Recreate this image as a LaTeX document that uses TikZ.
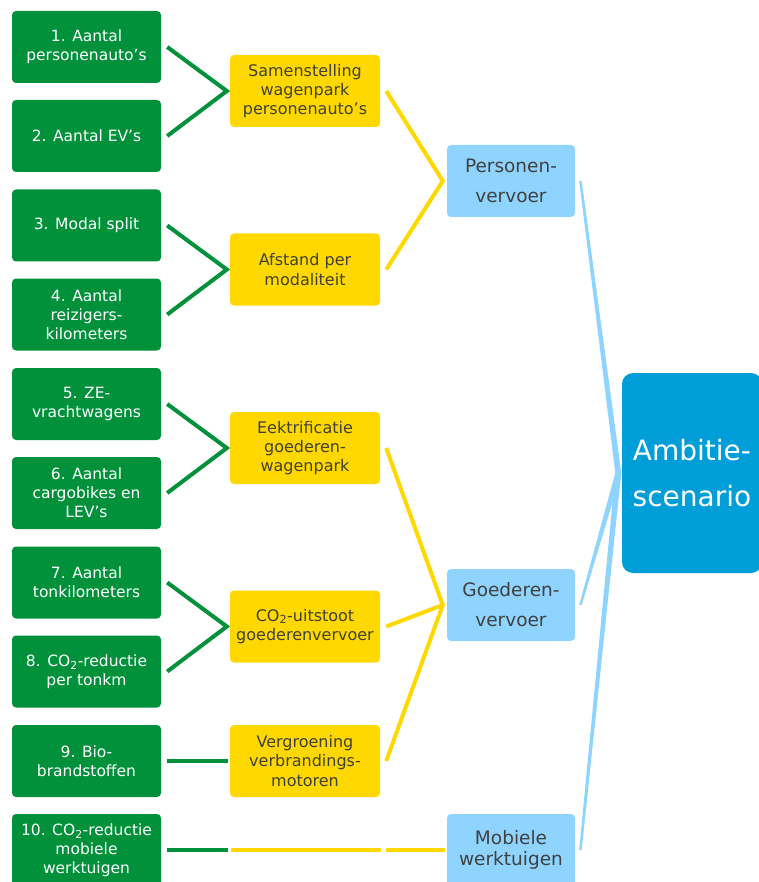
\documentclass[tikz,border=0pt]{standalone}
\usepackage{fontspec}
\setmainfont{DejaVu Sans}
\usetikzlibrary{calc}
\definecolor{ggreen}{RGB}{0,145,58}
\definecolor{yyellow}{RGB}{255,216,0}
\definecolor{lblue}{RGB}{143,212,255}
\definecolor{dblue}{RGB}{0,158,217}
\definecolor{dgray}{RGB}{64,64,64}
\tikzset{
  gbox/.style={fill=ggreen, rounded corners=4pt, minimum width=149pt, minimum height=72pt, text=white, align=center, inner sep=0pt, font=\fontsize{15.5}{19}\selectfont},
  ybox/.style={fill=yyellow, rounded corners=4pt, minimum width=150pt, minimum height=72pt, text=dgray, align=center, inner sep=0pt, font=\fontsize{16}{19.3}\selectfont},
  bbox/.style={fill=lblue, rounded corners=4pt, minimum width=128pt, minimum height=72pt, text=dgray, align=center, inner sep=0pt, font=\fontsize{18.5}{30}\selectfont},
  abox/.style={fill=dblue, rounded corners=11pt, minimum width=140pt, minimum height=200pt, text=white, align=center, inner sep=0pt, font=\fontsize{28}{46}\selectfont},
  gline/.style={draw=ggreen, line width=4pt, line join=miter},
  yline/.style={draw=yyellow, line width=4pt, line join=miter},
}
\newcommand{\cotwo}{CO\textsubscript{2}}
\begin{document}
\begin{tikzpicture}[x=1pt,y=-1pt]
\useasboundingbox (0,0) rectangle (758,882);
% green column
\node[gbox] (g1) at (86.5,47) {1. Aantal\\personenauto's};
\node[gbox] (g2) at (86.5,136) {2. Aantal EV's};
\node[gbox] (g3) at (86.5,225.5) {3. Modal split};
\node[gbox] (g4) at (86.5,314.5) {4. Aantal\\reizigers-\\kilometers};
\node[gbox] (g5) at (86.5,404) {5. ZE-\\vrachtwagens};
\node[gbox] (g6) at (86.5,493) {6. Aantal\\cargobikes en\\LEV's};
\node[gbox] (g7) at (86.5,582.5) {7. Aantal\\tonkilometers};
\node[gbox] (g8) at (86.5,671.5) {8. \cotwo-reductie\\per tonkm};
\node[gbox] (g9) at (86.5,761) {9. Bio-\\brandstoffen};
\node[gbox] (g10) at (86.5,850) {10. \cotwo-reductie\\mobiele\\werktuigen};
% yellow column
\node[ybox] (y1) at (305,91) {Samenstelling\\wagenpark\\personenauto's};
\node[ybox] (y2) at (305,269.5) {Afstand per\\modaliteit};
\node[ybox] (y3) at (305,448) {Eektrificatie\\goederen-\\wagenpark};
\node[ybox] (y4) at (305,626.5) {\cotwo-uitstoot\\goederenvervoer};
\node[ybox] (y5) at (305,761) {Vergroening\\verbrandings-\\motoren};
\coordinate (y6w) at (230,850);
\coordinate (y6e) at (380,850);
% blue column
\node[bbox] (b1) at (511,181) {Personen-\\vervoer};
\node[bbox] (b2) at (511,605) {Goederen-\\vervoer};
\node[bbox, font=\fontsize{18.5}{21.5}\selectfont] (b3) at (511,850) {Mobiele\\werktuigen};
\node[abox] (a) at (692,473) {Ambitie-\\scenario};
% green connectors
\draw[gline] ([xshift=6pt]g1.east) -- ([xshift=-3pt]y1.west) -- ([xshift=6pt]g2.east);
\draw[gline] ([xshift=6pt]g3.east) -- ([xshift=-3pt]y2.west) -- ([xshift=6pt]g4.east);
\draw[gline] ([xshift=6pt]g5.east) -- ([xshift=-3pt]y3.west) -- ([xshift=6pt]g6.east);
\draw[gline] ([xshift=6pt]g7.east) -- ([xshift=-3pt]y4.west) -- ([xshift=6pt]g8.east);
\draw[gline] ([xshift=6pt]g9.east) -- ([xshift=-2pt]y5.west);
\draw[gline] ([xshift=6pt]g10.east) -- ([xshift=-2pt]y6w);
% yellow connectors
\draw[yline] ([xshift=6pt]y1.east) -- ([xshift=-4pt]b1.west) -- ([xshift=6pt]y2.east);
\draw[yline] ([xshift=6pt]y3.east) -- ([xshift=-4pt]b2.west) -- ([xshift=6pt]y5.east);
\draw[yline] ([xshift=6pt]y4.east) -- ([xshift=-4pt]b2.west);
\draw[yline] ([xshift=1pt]y6w) -- ([xshift=1pt]y6e);
\draw[yline] ([xshift=6pt]y6e) -- ([xshift=-2pt]b3.west);
% blue connectors (tapered)
\foreach \b in {b1,b2,b3}{
  \fill[lblue] ($(\b.east)+(4,0)$) -- ($(\b.east)+(6.5,0)$) -- ($(a.west)+(-0.5,0)$) -- ($(a.west)+(-6.5,0)$) -- cycle;
}
\end{tikzpicture}
\end{document}
